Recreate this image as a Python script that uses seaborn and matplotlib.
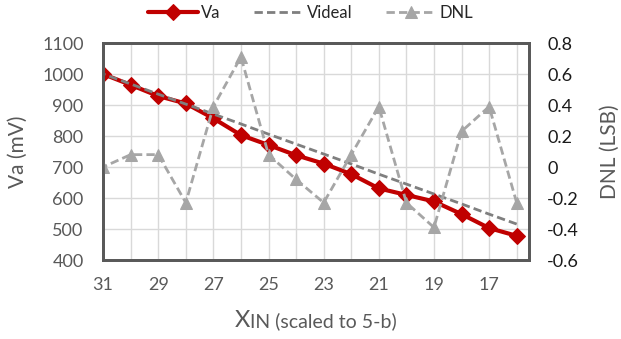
import pandas as pd
import numpy as np
import seaborn as sns
import matplotlib.pyplot as plt

# Values
x_in = [31, 30, 29, 28, 27, 26, 25, 24, 23, 22, 21, 20, 19, 18, 17, 16]
va = [1000, 965, 929, 905, 857, 803, 771, 738, 711, 677, 631, 610, 589, 548, 503, 478]
videal = [1000, 968, 935, 903, 871, 839, 806, 774, 742, 710, 677, 645, 613, 581, 548, 516]
dnl = [0.0, 0.08, 0.08, -0.23, 0.39, 0.71, 0.08, -0.08, -0.23, 0.08, 0.39, -0.23, -0.39, 0.23, 0.39, -0.23]

left_ticks = [400, 500, 600, 700, 800, 900, 1000, 1100]
right_ticks = [-0.6, -0.4, -0.2, 0, 0.2, 0.4, 0.6, 0.8]
right_labels = ['-0.6', '-0.4', '-0.2', '0', '0.2', '0.4', '0.6', '0.8']

df = pd.DataFrame({'x': x_in, 'Va': va, 'Videal': videal, 'DNL': dnl})

sns.set_style('white')
plt.rcParams['font.family'] = ['Lato', 'DejaVu Sans']

grey_txt = '#595959'
fig = plt.figure(figsize=(6.21, 3.39), dpi=100)
ax = fig.add_axes([0.166, 0.233, 0.686, 0.64])
ax2 = ax.twinx()

# gridlines at every integer, labels on odd values only
ax.set_xticks(x_in)
ax.set_xticklabels([str(v) if v % 2 == 1 else '' for v in x_in])
ax.grid(True, color='#D9D9D9', linewidth=1)
ax.set_axisbelow(True)

sns.lineplot(data=df, x='x', y='Va', ax=ax, color='#C00000', linewidth=3,
             marker='D', markersize=8, markeredgecolor='#C00000', label='Va', legend=False)
sns.lineplot(data=df, x='x', y='Videal', ax=ax, color='#7F7F7F', linewidth=2,
             linestyle=(0, (3, 1.5)), label='Videal', legend=False)
sns.lineplot(data=df, x='x', y='DNL', ax=ax2, color='#A6A6A6', linewidth=2,
             linestyle=(0, (3, 1.5)), marker='^', markersize=8,
             markeredgecolor='#A6A6A6', label='DNL', legend=False)

ax.set_xlim(31, 15.55)
ax.set_ylim(400, 1100)
ax.set_yticks(left_ticks)
ax2.set_ylim(-0.6, 0.8)
ax2.set_yticks(right_ticks)
ax2.set_yticklabels(right_labels)

ax.tick_params(axis='y', length=0, labelsize=13, labelcolor=grey_txt, pad=14)
ax.tick_params(axis='x', length=0, labelsize=13, labelcolor=grey_txt, pad=12)
ax2.tick_params(axis='y', length=0, labelsize=13, labelcolor='#1a1a1a', pad=13)

for a in (ax, ax2):
    for s in a.spines.values():
        s.set_color(grey_txt)
        s.set_linewidth(2)

ax.set_xlabel('')
ax.set_ylabel('Va (mV)', fontsize=15, color=grey_txt)
ax2.set_ylabel('DNL (LSB)', fontsize=15, color=grey_txt)
ax.yaxis.set_label_coords(-0.176, 0.5)
ax2.yaxis.set_label_coords(1.165, 0.5)

# x label: large X followed by smaller text, centred under the axes
t1 = fig.text(0.5, 0.035, 'X', fontsize=17, color=grey_txt, ha='left', va='baseline')
t2 = fig.text(0.5, 0.035, 'IN (scaled to 5-b)', fontsize=14, color=grey_txt,
              ha='left', va='baseline')
fig.canvas.draw()
r = fig.canvas.get_renderer()
w1 = t1.get_window_extent(r).width / fig.bbox.width
w2 = t2.get_window_extent(r).width / fig.bbox.width
x0 = 0.166 + 0.686 / 2 - (w1 + w2) / 2
t1.set_x(x0)
t2.set_x(x0 + w1)

h1, l1 = ax.get_legend_handles_labels()
h2, l2 = ax2.get_legend_handles_labels()
fig.legend(h1 + h2, l1 + l2, loc='upper center', bbox_to_anchor=(0.5, 1.03),
           ncol=3, frameon=False, fontsize=12, handlelength=3.0, columnspacing=2.0,
           handletextpad=0.2)

fig.savefig('out.png', dpi=100)
